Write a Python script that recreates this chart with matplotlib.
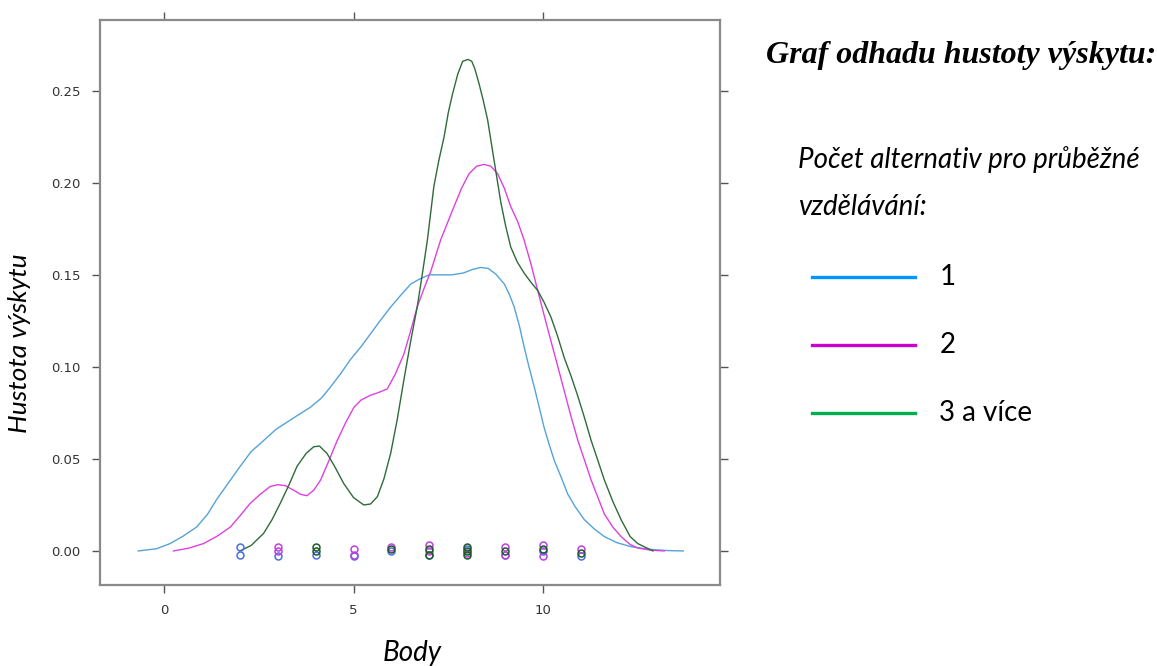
"""
Density plot of points (Body) by number of further-education alternatives.
Writes out.png
"""
import matplotlib
matplotlib.use("Agg")
import matplotlib.pyplot as plt

# ── data ─────────────────────────────────────────────────────────────────────

GROUPS = ["1", "2", "3 a více"]

# density curves (x = Body, y = density)
blue_x = [-0.68, -0.2, 0.16, 0.5, 0.86, 1.15, 1.39, 1.7, 2.01, 2.3, 2.63, 2.95, 3.25,
          3.55, 3.86, 4.15, 4.39, 4.65, 4.92, 5.2, 5.45, 5.7, 5.98, 6.25, 6.51, 6.77,
          7.0, 7.2, 7.6, 7.9, 8.15, 8.36, 8.55, 8.75, 8.98, 9.12, 9.24, 9.38, 9.5,
          9.63, 9.77, 9.9, 10.03, 10.16, 10.3, 10.48, 10.65, 10.85, 11.09, 11.35,
          11.62, 11.95, 12.33, 12.8, 13.3, 13.7]
blue_y = [0.000, 0.0012, 0.004, 0.008, 0.013, 0.020, 0.028, 0.037, 0.046, 0.054, 0.060,
          0.066, 0.070, 0.074, 0.078, 0.083, 0.089, 0.096, 0.104, 0.111, 0.118, 0.125,
          0.1325, 0.139, 0.145, 0.148, 0.150, 0.150, 0.150, 0.151, 0.153, 0.154, 0.1535,
          0.1505, 0.145, 0.139, 0.1325, 0.122, 0.111, 0.100, 0.089, 0.078, 0.067, 0.058,
          0.049, 0.040, 0.031, 0.024, 0.017, 0.012, 0.0078, 0.0045, 0.0023, 0.0009,
          0.0002, 0.000]

mag_x = [0.25, 0.65, 1.04, 1.4, 1.75, 2.0, 2.28, 2.55, 2.80, 3.0, 3.2, 3.42, 3.6, 3.77,
         3.95, 4.13, 4.35, 4.57, 4.8, 5.01, 5.2, 5.45, 5.65, 5.89, 6.1, 6.33, 6.5, 6.68,
         6.85, 7.04, 7.30, 7.65, 7.85, 8.05, 8.25, 8.44, 8.62, 8.8, 8.98, 9.15, 9.33,
         9.5, 9.68, 9.86, 10.03, 10.21, 10.38, 10.56, 10.74, 10.92, 11.1, 11.27, 11.45,
         11.62, 11.84, 12.06, 12.3, 12.5, 12.85, 13.2]
mag_y = [0.000, 0.0015, 0.004, 0.008, 0.013, 0.019, 0.026, 0.031, 0.035, 0.036, 0.0355,
         0.033, 0.0308, 0.030, 0.033, 0.0385, 0.049, 0.060, 0.070, 0.078, 0.082, 0.0846,
         0.086, 0.088, 0.096, 0.107, 0.119, 0.1325, 0.142, 0.152, 0.169, 0.187, 0.197,
         0.205, 0.209, 0.210, 0.209, 0.205, 0.197, 0.187, 0.179, 0.169, 0.156, 0.1415,
         0.128, 0.114, 0.101, 0.087, 0.073, 0.060, 0.049, 0.0385, 0.029, 0.020, 0.013,
         0.0078, 0.0035, 0.0016, 0.0004, 0.000]

grn_x = [2.0, 2.3, 2.63, 2.85, 3.07, 3.3, 3.51, 3.75, 3.95, 4.1, 4.30, 4.5, 4.74, 5.0,
         5.27, 5.45, 5.63, 5.8, 5.98, 6.15, 6.33, 6.5, 6.68, 6.82, 6.95, 7.12, 7.25,
         7.39, 7.5, 7.61, 7.75, 7.88, 8.02, 8.12, 8.2, 8.31, 8.42, 8.54, 8.71, 8.89,
         9.02, 9.15, 9.32, 9.5, 9.68, 9.86, 10.03, 10.21, 10.38, 10.56, 10.74, 10.92,
         11.1, 11.27, 11.45, 11.62, 11.84, 12.06, 12.3, 12.5, 12.9]
grn_y = [0.000, 0.003, 0.0096, 0.017, 0.026, 0.036, 0.046, 0.053, 0.0566, 0.057, 0.053,
         0.046, 0.0367, 0.029, 0.025, 0.0255, 0.0295, 0.039, 0.053, 0.071, 0.093, 0.113,
         0.1325, 0.151, 0.169, 0.198, 0.212, 0.225, 0.238, 0.248, 0.259, 0.266, 0.267,
         0.266, 0.262, 0.254, 0.245, 0.234, 0.212, 0.189, 0.176, 0.165, 0.157, 0.151,
         0.146, 0.1415, 0.135, 0.127, 0.117, 0.105, 0.095, 0.084, 0.072, 0.060, 0.049,
         0.0385, 0.027, 0.017, 0.0078, 0.004, 0.000]

# jittered raw observations near zero
blue_pts_x = [2, 2, 3, 4, 5, 6, 7, 8, 9, 10, 11]
blue_pts_y = [0.002, -0.002, -0.003, -0.002, -0.003, 0.000, -0.002, 0.001, -0.002, 0.000, -0.003]
mag_pts_x = [3, 3, 5, 5, 6, 7, 7, 8, 9, 9, 10, 10, 11]
mag_pts_y = [0.002, 0.000, 0.001, -0.002, 0.002, 0.003, 0.000, -0.001, 0.002, -0.002, 0.003, -0.003, 0.001]
grn_pts_x = [4, 4, 6, 7, 7, 8, 8, 8, 9, 10, 11]
grn_pts_y = [0.002, 0.000, 0.001, 0.001, -0.002, 0.002, 0.000, -0.002, 0.000, 0.001, -0.001]

x_ticks = [0, 5, 10]
y_ticks = [0.00, 0.05, 0.10, 0.15, 0.20, 0.25]

CURVE_COLS  = ["#55a3d8", "#e040e0", "#2f6b3a"]
POINT_COLS  = ["#4a6fe0", "#c040e0", "#1f5a2c"]
LEGEND_COLS = ["#0096ff", "#cc00cc", "#00b050"]

SANS = ["Lato", "DejaVu Sans"]


def main():
    fig = plt.figure(figsize=(11.57, 6.66), dpi=100)
    ax = fig.add_axes([0.0864, 0.1216, 0.5359, 0.8483])

    curves = [(blue_x, blue_y), (mag_x, mag_y), (grn_x, grn_y)]
    for (cx, cy), col in zip(curves, CURVE_COLS):
        ax.plot(cx, cy, color=col, lw=1.0)

    points = [(blue_pts_x, blue_pts_y), (mag_pts_x, mag_pts_y), (grn_pts_x, grn_pts_y)]
    for (px, py), col in zip(points, POINT_COLS):
        ax.plot(px, py, ls="none", marker="o", ms=5, mfc="none", mec=col, mew=1.1)

    ax.set_xlim(-1.69, 14.67)
    ax.set_ylim(-0.0185, 0.2884)

    # lattice-like axes: ticks outside on all four sides, labels left/bottom only
    ax.set_xticks(x_ticks)
    ax.set_yticks(y_ticks)
    ax.set_yticklabels([f"{v:.2f}" for v in y_ticks])
    ax.tick_params(direction="out", length=6, width=1.0, color="#555555",
                   labelsize=9.5, labelcolor="#333333", pad=8,
                   top=True, right=True, labeltop=False, labelright=False)
    for s in ax.spines.values():
        s.set_color("#8a8a8a")
        s.set_linewidth(1.6)

    fig.text(0.356, 0.02, "Body", fontsize=20, style="italic",
             family=SANS, ha="center", va="center")
    fig.text(0.017, 0.485, "Hustota výskytu", fontsize=19, style="italic",
             family=SANS, rotation=90, ha="center", va="center")

    # right-hand legend block
    fig.text(0.662, 0.917, "Graf odhadu hustoty výskytu:", fontsize=23,
             family="Liberation Serif", style="italic", weight="bold",
             ha="left", va="center")
    fig.text(0.690, 0.760, "Počet alternativ pro průběžné", fontsize=20,
             family=SANS, style="italic", ha="left", va="center")
    fig.text(0.690, 0.689, "vzdělávání:", fontsize=20,
             family=SANS, style="italic", ha="left", va="center")

    leg_y = [0.584, 0.482, 0.380]
    for lbl, col, yy in zip(GROUPS, LEGEND_COLS, leg_y):
        fig.add_artist(plt.Line2D([0.702, 0.791], [yy, yy], color=col, lw=2.4,
                                  transform=fig.transFigure))
        fig.text(0.812, yy, lbl, fontsize=20, family=SANS,
                 ha="left", va="center")

    fig.savefig("out.png", dpi=100)
    plt.close(fig)


if __name__ == "__main__":
    main()
